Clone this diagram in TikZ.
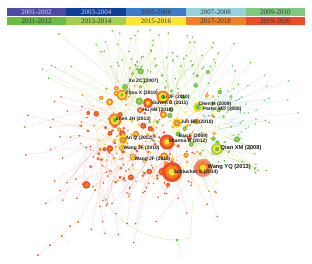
\documentclass[tikz,border=0pt]{standalone}
\usepackage{fontspec}
\newfontfamily\labfont{Liberation Sans}
\newfontfamily\legfont{Liberation Serif}
\definecolor{y0102}{HTML}{4B4BA6}
\definecolor{y0304}{HTML}{0D3E9C}
\definecolor{y0506}{HTML}{3D7CC9}
\definecolor{y0708}{HTML}{94D3DE}
\definecolor{y0910}{HTML}{7FC97F}
\definecolor{y1112}{HTML}{6BBE44}
\definecolor{y1314}{HTML}{A5CF4F}
\definecolor{y1516}{HTML}{FFE62E}
\definecolor{y1718}{HTML}{F47F24}
\definecolor{y1920}{HTML}{EE4A25}
\definecolor{pinkline}{HTML}{F28A8A}
\tikzset{
  edge/.style={line width=0.3pt, draw opacity=0.4},
  yearbox/.style={minimum width=59.7pt, minimum height=7.8pt, inner sep=0pt,
    font=\legfont\fontsize{7}{7}\selectfont},
  lab/.style={font=\labfont\bfseries\fontsize{4.9}{6}\selectfont, inner sep=0.4pt, anchor=west, text=black!90},
  midlab/.style={lab, font=\labfont\bfseries\fontsize{5}{6}\selectfont},
  biglab/.style={lab, font=\labfont\bfseries\fontsize{5.7}{7}\selectfont},
}
\begin{document}
\begin{tikzpicture}[x=1pt,y=-1pt]
    \useasboundingbox[fill=white] (0,0) rectangle (312,264);
    % year legend
    \foreach \c/\tc/\t [count=\k from 0] in {y0102/white!85!black/2001-2002, y0304/white!85!black/2003-2004,
        y0506/black!80/2005-2006, y0708/black!80/2007-2008, y0910/black!80/2009-2010,
        y1112/black!80/2011-2012, y1314/black!80/2013-2014, y1516/black!80/2015-2016,
        y1718/black!80/2017-2018, y1920/black!80/2019-2020}{
      \pgfmathsetmacro{\lx}{36.55+59.7*mod(\k,5)}
      \pgfmathsetmacro{\ly}{ifthenelse(\k<5,12,21.2)}
      \node[yearbox, fill=\c, text=\tc] (yr\k) at (\lx,\ly) {\t};
    }
    % links
    \pgfmathsetseed{2020}
    \foreach \cnt/\xmin/\xmax/\ymin/\ymax/\amin/\amax/\lmin/\lmax/\ec/\dc in {
        60/110/205/80/115/55/125/15/60/y1314/y1112,
        20/150/230/70/110/40/110/15/45/y1314/y1112,
        6/110/135/90/110/135/155/55/95/y1314/y1112,
        35/185/235/95/130/-25/45/10/45/y0708/y0910,
        5/200/230/100/120/-5/25/50/75/y0708/y0910,
        30/180/235/125/165/-50/20/10/45/y1314/y1112,
        70/100/220/85/175/0/360/5/30/y1516/y1516,
        70/85/200/130/180/210/300/15/70/pinkline/y1920,
        18/80/120/105/150/160/210/20/60/pinkline/y1920,
        70/90/200/100/175/0/360/5/25/y1718/y1718}{
      \foreach \i in {1,...,\cnt}{
        \pgfmathsetmacro{\hx}{\xmin+(\xmax-\xmin)*rnd}
        \pgfmathsetmacro{\hy}{\ymin+(\ymax-\ymin)*rnd}
        \pgfmathsetmacro{\an}{\amin+(\amax-\amin)*rnd}
        \pgfmathsetmacro{\len}{\lmin+(\lmax-\lmin)*rnd}
        \pgfmathsetmacro{\tx}{min(300,max(5,\hx+\len*cos(\an)))}
        \pgfmathsetmacro{\ty}{min(258,max(30,\hy-\len*sin(\an)))}
        \coordinate (hub) at (\hx,\hy);
        \coordinate (tip) at (\tx,\ty);
        \draw[edge,\ec] (hub) -- (tip);
        \fill[\dc] (tip) circle (0.9);
      }
    }
    % long green arc and red chain at the bottom
    \coordinate (arcA) at (97,172);
    \coordinate (arcB) at (177,240);
    \coordinate (arcC) at (190,238);
    \coordinate (arcD) at (193,200);
    \coordinate (arcE) at (183,258);
    \draw[edge,y1314,line width=0.45pt] (arcA) .. controls (100,215) and (140,240) .. (arcB) -- (arcC) -- (arcD);
    \draw[edge,y1314,line width=0.45pt] (arcB) -- (arcE);
    \fill[y1112] (arcB) circle (1.3);
    \coordinate (chA) at (38,255);
    \coordinate (chB) at (50,245);
    \coordinate (chC) at (62,236);
    \coordinate (chD) at (70,226);
    \coordinate (chE) at (78,222);
    \coordinate (chF) at (95,190);
    \coordinate (chG) at (115,170);
    \draw[edge,pinkline] (chA) -- (chB) -- (chC) -- (chD) -- (chE) -- (chF) -- (chG);
    \draw[edge,pinkline] (chC) -- (70,244);
    \foreach \p in {chA,chB,chC,chD,chE,chF}{\fill[y1920] (\p) circle (1);}
    % small ringed nodes
    \foreach \cnt/\xmin/\xmax/\ymin/\ymax/\oc/\ic in {
        55/85/190/110/185/y1920/y1718,
        40/100/215/85/170/y1718/y1516,
        30/130/240/65/150/y1112/y1314}{
      \foreach \i in {1,...,\cnt}{
        \pgfmathsetmacro{\hx}{\xmin+(\xmax-\xmin)*rnd}
        \pgfmathsetmacro{\hy}{\ymin+(\ymax-\ymin)*rnd}
        \pgfmathsetmacro{\rad}{1.3+3*rnd*rnd}
        \coordinate (dot) at (\hx,\hy);
        \fill[\oc] (dot) circle (\rad);
        \fill[\ic] (dot) circle (0.55*\rad);
      }
    }
    % cited references
    \foreach \nm/\kx/\ky/\kr/\ca/\cb/\cc in {
        schlucker/172/172/10/y1920/y1718/y1516,
        wangyq/203/168/9/y1920!65/y1718/y1516,
        sharma/167/142/7.5/y1920/y1718/y1516,
        qianxm/217/149/6/y1314/y1516/y1112,
        shenjh/115/120/6.5/y1718/y1516/y1112,
        lijf/163/97/6.5/y1718/y1516/y1112,
        zhoux/122/95/5.5/y1718/y1516/y1112,
        guven/148/103/5/y1920/y1718/y1516,
        chenh/198/107/5/y1516/y1314/y1112,
        junbh/177/123/5/y1516/y1718/y1314,
        anq/123/140/5/y1516/y1718/y1314,
        wangjfb/133/157/3.5/y1718/y1516/y1314,
        wangjfa/122/148/3/y1718/y1516/y1112,
        huhb/140/110/3/y1920/y1718/y1516,
        xuzc/125/87/3/y1112/y1314/y1112,
        baof/178/134/2.5/y1112/y1314/y1112}{
      \coordinate (\nm) at (\kx,\ky);
      \fill[\ca] (\nm) circle (\kr);
      \fill[\cb] (\nm) circle (0.68*\kr);
      \fill[\cc] (\nm) circle (0.36*\kr);
    }
    % labels
    \node[lab] (lxuzc) at (128,81) {Xu ZC (2007)};
    \node[lab] (lzhoux) at (125,93) {Zhou X (2010)};
    \node[lab] (llijf) at (162,97) {Li JF (2010)};
    \node[lab] (lguven) at (152,103) {Guven B (2011)};
    \node[lab] (lhuhb) at (142,110) {Hu HB (2018)};
    \node[lab] (lchenh) at (198,104) {Chen H (2009)};
    \node[lab] (lporter) at (202,109) {Porter MD (2008)};
    \node[lab] (lshenjh) at (115,119) {Shen JH (2013)};
    \node[lab] (ljunbh) at (180,122) {Jun BH (2010)};
    \node[lab] (lbaof) at (178,136) {Bao F (2009)};
    \node[lab] (lsharma) at (168,141) {Sharma B (2012)};
    \node[lab] (lanq) at (125,138) {An Q (2012)};
    \node[lab] (lwangjfa) at (123,148) {Wang JF (2010)};
    \node[lab] (lwangjfb) at (134,159) {Wang JF (2015)};
    \node[biglab] (lqianxm) at (220,148) {Qian XM (2008)};
    \node[biglab] (lwangyq) at (207,167) {Wang YQ (2013)};
    \node[midlab] (lschlucker) at (173,172) {Schlucker S (2014)};
\end{tikzpicture}
\end{document}
